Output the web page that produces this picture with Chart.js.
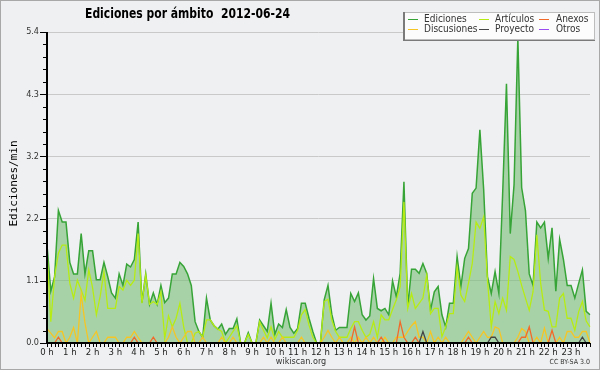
<!DOCTYPE html>
<html><head><meta charset="utf-8">
<script src="https://cdn.jsdelivr.net/npm/chart.js@4/dist/chart.umd.min.js"></script>
<style>html,body{margin:0;padding:0;background:#eff0f1;}#wrap{width:600px;height:370px;}</style>
</head><body><div id="wrap"><canvas id="c" width="600" height="370"></canvas></div>
<script>
const titleText = 'Ediciones por ámbito  2012-06-24';
const yAxisTitle = 'Ediciones/min';
const hourLabels = ['0 h','1 h','2 h','3 h','4 h','5 h','6 h','7 h','8 h','9 h','10 h','11 h','12 h','13 h','14 h','15 h','16 h','17 h','18 h','19 h','20 h','21 h','22 h','23 h'];
const minuteLabels = ['00','10','20','30','40','50'];
const yMax = 5.4;
const yTickLabels = ['0.0','1.1','2.2','3.2','4.3','5.4'];
const seriesNames = ['Ediciones','Artículos','Anexos','Discusiones','Proyecto','Otros'];

const ediciones = [
1.7,0.9,1.15,2.3,2.1,2.1,1.4,1.2,1.2,1.9,
1.2,1.6,1.6,1.1,1.1,1.4,1.15,0.87,0.78,1.2,
1.0,1.37,1.32,1.45,2.1,0.7,1.2,0.67,0.87,0.67,
1.0,0.7,0.78,1.2,1.2,1.4,1.33,1.2,1.0,0.37,
0.2,0.1,0.78,0.4,0.3,0.24,0.33,0.15,0.25,0.25,
0.42,0,0,0.18,0,0,0.4,0.3,0.2,0.69,
0.15,0.33,0.27,0.58,0.27,0.17,0.25,0.69,0.69,0.43,
0.2,0,0,0.75,1.0,0.5,0.22,0.27,0.27,0.27,
0.86,0.72,0.87,0.49,0.4,0.47,1.12,0.6,0.56,0.6,
0.49,1.08,0.8,1.21,2.8,0.63,1.28,1.28,1.21,1.38,
1.21,0.57,0.89,0.98,0.49,0.28,0.69,0.69,1.5,0.98,
1.47,1.64,2.6,2.69,3.7,2.66,1.15,0.86,1.24,0.86,
2.6,4.5,1.9,2.75,5.3,2.7,2.3,1.2,1.0,2.1,
2.0,2.1,1.47,2.0,0.9,1.8,1.45,1.0,1.0,0.78,
1.03,1.27,0.55,0.49];

const articulos = [
1.6,0.37,1.15,1.56,1.7,1.7,1.04,0.78,1.09,0.92,
0.74,1.27,0.96,0.49,0.81,1.24,0.6,0.6,0.6,0.98,
0.92,1.09,1.0,1.09,1.9,0.69,1.18,0.67,0.72,0.67,
0.89,0.08,0.47,0.28,0.43,0.69,0.28,0,0,0.17,
0.2,0.1,0.4,0.4,0.3,0.24,0.2,0,0.1,0.2,
0.3,0,0,0.15,0,0,0.37,0.22,0.09,0.28,
0.06,0.2,0.1,0.1,0.1,0.1,0.22,0.49,0.58,0.31,
0.1,0,0,0.72,0.76,0.4,0.2,0.1,0.1,0.1,
0.25,0.37,0.37,0.22,0.1,0.15,0.37,0.1,0.49,0.4,
0.4,0.58,0.75,0.98,2.45,0.6,0.86,0.6,0.69,0.78,
1.18,0.51,0.6,0.6,0.11,0.28,0.51,0.51,1.32,0.83,
0.72,1.04,1.38,2.1,1.99,2.19,1.09,0.28,0.72,0.51,
0.78,0.57,1.5,1.45,1.24,1.0,0.78,0.57,0.89,1.88,
1.04,0.57,0.55,0.28,0.28,0.78,0.86,0.43,0.43,0.22,
0.54,0.72,0.38,0.28];

const discusiones = [
0.25,0.17,0.09,0.2,0.2,0,0.1,0.27,0,0.85,
0.35,0,0.1,0.2,0,0,0.1,0.1,0.1,0,
0,0.1,0.1,0.2,0.1,0,0,0,0,0,
0,0,0.1,0.28,0.1,0,0.1,0.2,0.2,0,
0,0.1,0,0,0,0,0.1,0,0,0.1,
0,0,0,0,0,0,0,0.1,0,0.1,
0,0,0.1,0,0,0,0,0.1,0,0,
0,0,0,0.1,0.22,0.1,0,0.1,0,0,
0.1,0,0.1,0,0.1,0,0.1,0,0,0.1,
0,0,0.1,0.1,0.1,0.2,0.3,0.37,0.1,0.1,
0,0.2,0,0.1,0,0.1,0,0,0,0,
0.1,0.2,0.1,0,0.1,0.2,0.1,0.1,0.28,0.25,
0,0,0,0,0.1,0.25,0.2,0,0,0.1,
0,0.26,0,0,0,0.1,0,0.2,0.2,0.1,
0.1,0.2,0.2,0];

const anexos = [
0,0,0,0.1,0,0,0,0,0,0,
0,0,0,0,0,0,0,0,0,0,
0,0,0,0.1,0,0,0,0,0.1,0,
0,0,0,0,0,0,0,0,0,0,
0,0,0,0,0,0,0,0,0,0,
0,0,0,0,0,0,0,0,0,0,
0,0,0,0,0,0,0,0,0,0,
0,0,0,0,0,0,0,0,0,0,
0,0.28,0,0,0,0,0,0,0.1,0,
0,0,0,0.37,0.1,0,0,0.1,0,0,
0,0,0,0,0,0,0,0,0,0,
0,0.1,0,0,0,0,0,0,0,0,
0,0,0,0,0,0.1,0.1,0.28,0,0,
0,0,0,0.22,0,0,0,0,0,0,
0,0,0,0];

const proyecto = [
0,0,0,0,0,0,0,0,0,0,
0,0,0,0,0,0,0,0,0,0,
0,0,0,0,0,0,0,0,0,0,
0,0,0,0,0,0,0,0,0,0,
0,0,0,0,0,0,0,0,0,0,
0,0,0,0,0,0,0,0,0,0,
0,0,0,0,0,0,0,0,0,0,
0,0,0,0,0,0,0,0,0,0,
0,0,0,0,0,0,0,0,0,0,
0,0,0,0,0,0,0,0,0,0.2,
0,0,0,0,0,0,0,0,0,0,
0,0,0,0,0,0,0,0.1,0.1,0,
0,0,0,0,0,0,0,0,0,0,
0,0,0,0,0,0,0,0,0,0,
0,0.1,0,0];

const otros = [
0,0,0,0,0,0,0,0,0,0,0,0,0,0,0,0,0,0,0,0,0,0,0,0,
0,0,0,0,0,0,0,0,0,0,0,0,0,0,0,0,0,0,0,0,0,0,0,0,
0,0,0,0,0,0,0,0,0,0,0,0,0,0,0,0,0,0,0,0,0,0,0,0,
0,0,0,0,0,0,0,0,0,0,0,0,0,0,0,0,0,0,0,0,0,0,0,0,
0,0,0,0,0,0,0,0,0,0,0,0,0,0,0,0,0,0,0,0,0,0,0,0,
0,0,0,0,0,0,0,0,0,0,0,0,0,0,0,0,0,0,0,0,0,0,0,0];

const categories = [];
hourLabels.forEach(h => minuteLabels.forEach(m => categories.push(h.replace(' h','') + ':' + m)));

const colors = {
  Ediciones: '#36a436', Artículos: '#b6ec14', Anexos: '#f26a2a',
  Discusiones: '#f5c525', Proyecto: '#454545', Otros: '#9a4cf0'
};

const FONT = "'DejaVu Sans Condensed','DejaVu Sans',sans-serif";

const decor = {
  id: 'decor',
  beforeDraw(chart) {
    const ctx = chart.ctx;
    ctx.save();
    ctx.fillStyle = '#eff0f1';
    ctx.fillRect(0, 0, chart.width, chart.height);
    ctx.restore();
  },
  afterDatasetsDraw(chart) {
    const ctx = chart.ctx, ca = chart.chartArea, ys = chart.scales.y, xs = chart.scales.x;
    ctx.save();
    ctx.strokeStyle = '#000';
    ctx.lineWidth = 1;
    ys.ticks.forEach((t, i) => {
      const py = Math.round(ys.getPixelForValue(t.value)) + 0.5;
      const len = i % 5 === 0 ? 7 : 4;
      ctx.beginPath(); ctx.moveTo(ca.left - len, py); ctx.lineTo(ca.left, py); ctx.stroke();
    });
    xs.ticks.forEach((t, i) => {
      const px = Math.round(xs.getPixelForTick(i)) + 0.5;
      ctx.beginPath(); ctx.moveTo(px, ca.bottom); ctx.lineTo(px, ca.bottom + 4); ctx.stroke();
    });
    ctx.lineWidth = 2;
    ctx.beginPath();
    ctx.moveTo(ca.left, ca.top); ctx.lineTo(ca.left, ca.bottom); ctx.lineTo(ca.right, ca.bottom);
    ctx.stroke();
    ctx.restore();
  },
  afterDraw(chart) {
    const ctx = chart.ctx, ca = chart.chartArea;
    ctx.save();
    // frame
    ctx.strokeStyle = '#a8a8a8'; ctx.lineWidth = 1;
    ctx.strokeRect(0.5, 0.5, chart.width - 1, chart.height - 1);
    // title (fit to the reference width)
    ctx.fillStyle = '#000';
    ctx.font = "bold 13.5px " + FONT;
    ctx.textBaseline = 'alphabetic'; ctx.textAlign = 'left';
    const tw = ctx.measureText(titleText).width;
    const sx = Math.min(1, 205 / tw);
    ctx.save();
    ctx.translate(85, 18);
    ctx.scale(sx, 1);
    ctx.fillText(titleText, 0, 0);
    ctx.restore();
    // y axis title
    ctx.save();
    ctx.translate(14, (ca.top + ca.bottom) / 2 - 4);
    ctx.rotate(-Math.PI / 2);
    ctx.font = "11px 'DejaVu Sans Mono',monospace";
    ctx.textAlign = 'center'; ctx.textBaseline = 'middle';
    ctx.fillText(yAxisTitle, 0, 0);
    ctx.restore();
    // legend box
    const bx = 404, by = 12, bw = 190, bh = 27;
    ctx.fillStyle = '#fcfcfc';
    ctx.fillRect(bx, by, bw, bh);
    ctx.strokeStyle = '#bdbdbd'; ctx.lineWidth = 1;
    ctx.strokeRect(bx + 0.5, by + 0.5, bw, bh);
    ctx.fillStyle = '#7a7a7a';
    ctx.fillRect(bx - 1, by, 2, bh + 2);
    ctx.fillRect(bx - 1, by + bh + 1, bw + 2, 1);
    const cols = [[408, 424], [479, 495], [539, 556]];
    const rows = [19, 29];
    const order = [['Ediciones','Artículos','Anexos'],['Discusiones','Proyecto','Otros']];
    ctx.font = "10px " + FONT;
    ctx.textBaseline = 'middle'; ctx.textAlign = 'left';
    order.forEach((row, r) => row.forEach((name, c) => {
      const ds = chart.data.datasets.find(d => d.label === name);
      ctx.strokeStyle = ds.borderColor; ctx.lineWidth = 1;
      ctx.beginPath(); ctx.moveTo(cols[c][0], rows[r] + 0.5); ctx.lineTo(cols[c][0] + 10, rows[r] + 0.5); ctx.stroke();
      ctx.fillStyle = '#333';
      ctx.fillText(name, cols[c][1], rows[r]);
    }));
    // footer
    ctx.fillStyle = '#333';
    ctx.font = "9px " + FONT;
    ctx.textAlign = 'center'; ctx.textBaseline = 'middle';
    ctx.fillText('wikiscan.org', 301, 362);
    ctx.font = "7px " + FONT;
    ctx.textAlign = 'right';
    ctx.fillText('CC BY-SA 3.0', 590, 362);
    ctx.restore();
  }
};

function ds(label, data, order, extra) {
  return Object.assign({
    label, data, order,
    borderColor: colors[label], borderWidth: 1.3,
    pointRadius: 0, tension: 0, fill: false
  }, extra || {});
}

new Chart(document.getElementById('c'), {
  type: 'line',
  data: {
    labels: categories,
    datasets: [
      ds('Ediciones', ediciones, 10, { fill: 'origin', backgroundColor: 'rgba(122,192,122,0.62)', borderWidth: 1.5 }),
      ds('Artículos', articulos, 5),
      ds('Anexos', anexos, 3),
      ds('Discusiones', discusiones, 4),
      ds('Proyecto', proyecto, 2),
      ds('Otros', otros, 1)
    ]
  },
  options: {
    responsive: false,
    devicePixelRatio: 1,
    animation: false,
    layout: { padding: { top: 32, right: 10, bottom: 10, left: 0 } },
    plugins: { legend: { display: false }, title: { display: false }, tooltip: { enabled: false } },
    scales: {
      x: {
        type: 'category',
        offset: false,
        grid: { display: false },
        border: { display: false },
        afterFit(s) { s.height = 17; },
        ticks: {
          autoSkip: false, maxRotation: 0, minRotation: 0, padding: -4,
          color: '#222', font: { family: FONT, size: 9.5 },
          callback(v, i) { return i % minuteLabels.length === 0 ? hourLabels[i / minuteLabels.length] : ''; }
        }
      },
      y: {
        min: 0, max: yMax,
        afterFit(s) { s.width = 47; },
        afterBuildTicks(s) {
          const t = [];
          for (let k = 0; k <= 25; k++) t.push({ value: yMax * k / 25 });
          s.ticks = t;
        },
        border: { display: false },
        grid: {
          drawTicks: false,
          color: c => (c.index % 5 === 0 && c.index > 0) ? '#c9c9c9' : 'rgba(0,0,0,0)',
          lineWidth: 1
        },
        ticks: {
          autoSkip: false, padding: 8, color: '#333', font: { family: FONT, size: 9 },
          callback(v, i) { return i % 5 === 0 ? yTickLabels[i / 5] : ''; }
        }
      }
    }
  },
  plugins: [decor]
});
</script></body></html>
